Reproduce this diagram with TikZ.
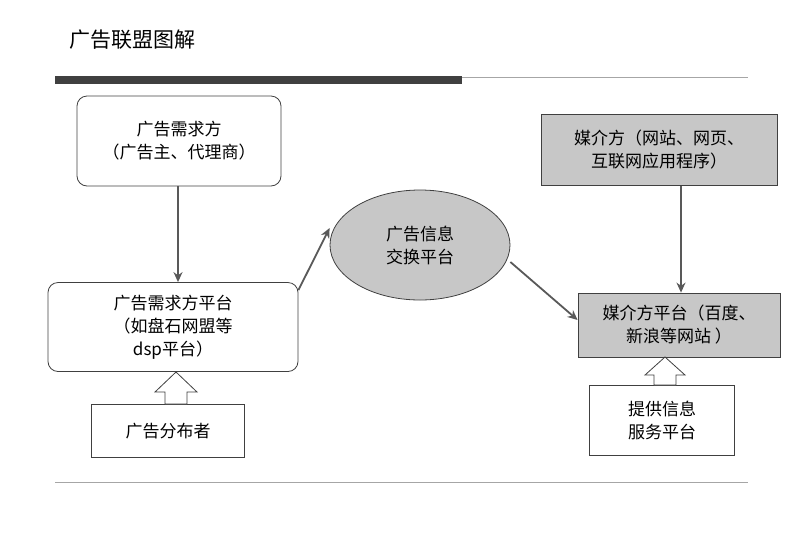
\documentclass[tikz,border=0pt]{standalone}
\usepackage{fontspec}
\newfontfamily\cjk{Noto Sans CJK SC}
\usetikzlibrary{shapes.geometric,arrows.meta}
\begin{document}
\begin{tikzpicture}[x=1pt,y=-1pt,font=\cjk\fontsize{17}{23}\selectfont,
 box/.style={draw=black!75,line width=0.8pt,align=center,inner sep=0pt},
 gbox/.style={box,fill=black!22},
 con/.style={draw=black!65,line width=1.8pt,-{Stealth[length=10pt,width=9pt]}},
 hol/.style={draw=black!75,fill=white,line width=0.8pt}]
\useasboundingbox (0,0) rectangle (800,539);
\node[anchor=west,font=\cjk\fontsize{21}{24}\selectfont] (title) at (66,40) {广告联盟图解};
\fill[black!75] (55,76) rectangle (462,84);
\draw[black!35,line width=0.8pt] (462,77) -- (748,77);
\draw[black!35,line width=0.8pt] (55,482) -- (748,482);
\node[box,rounded corners=10pt,minimum width=204pt,minimum height=90pt] (b1) at (179,141) {广告需求方\\（广告主、代理商）};
\node[box,rounded corners=10pt,minimum width=250pt,minimum height=89pt] (b2) at (173,327) {广告需求方平台\\（如盘石网盟等\\dsp平台）};
\node[box,minimum width=153pt,minimum height=53pt] (b3) at (168,431) {广告分布者};
\node[ellipse,draw=black!75,fill=black!22,line width=0.8pt,minimum width=180pt,minimum height=110pt,align=center] (e) at (420,245) {广告信息\\交换平台};
\node[gbox,minimum width=236pt,minimum height=71pt] (b4) at (659,150) {媒介方（网站、网页、\\互联网应用程序）};
\node[gbox,minimum width=202pt,minimum height=64pt] (b5) at (679,325) {媒介方平台（百度、\\新浪等网站 ）};
\node[box,minimum width=145pt,minimum height=70pt] (b6) at (662,420) {提供信息\\服务平台};
\draw[hol] (176,372) -- (197,392) -- (187,392) -- (187,404) -- (165,404) -- (165,392) -- (155,392) -- cycle;
\draw[hol] (665,357) -- (685,375) -- (676,375) -- (676,385) -- (654,385) -- (654,375) -- (645,375) -- cycle;
\draw[con] (b1.south -| 178,0) -- (b2.north -| 178,0);
\draw[con] (b2.north east) ++(0,8) coordinate (p1) -- (e.west |- 0,228);
\draw[con] (e.east |- 0,262) -- (b5.west |- 0,320);
\draw[con] (b4.south -| 681,0) -- (b5.north -| 681,0);
\end{tikzpicture}
\end{document}
